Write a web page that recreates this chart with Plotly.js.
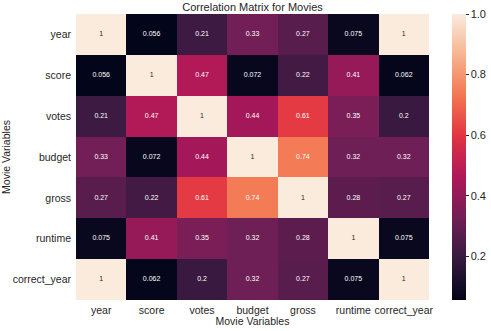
<!DOCTYPE html>
<html>
<head>
<meta charset="utf-8">
<script src="https://cdn.plot.ly/plotly-3.0.1.min.js"></script>
<style>html,body{margin:0;padding:0;background:#fff;}#chart{width:491px;height:331px;}</style>
</head>
<body>
<div id="chart"></div>
<script>
var variables = ["year", "score", "votes", "budget", "gross", "runtime", "correct_year"];
var rowYear        = [1, 0.056, 0.21, 0.33, 0.27, 0.075, 1];
var rowScore       = [0.056, 1, 0.47, 0.072, 0.22, 0.41, 0.062];
var rowVotes       = [0.21, 0.47, 1, 0.44, 0.61, 0.35, 0.2];
var rowBudget      = [0.33, 0.072, 0.44, 1, 0.74, 0.32, 0.32];
var rowGross       = [0.27, 0.22, 0.61, 0.74, 1, 0.28, 0.27];
var rowRuntime     = [0.075, 0.41, 0.35, 0.32, 0.28, 1, 0.075];
var rowCorrectYear = [1, 0.062, 0.2, 0.32, 0.27, 0.075, 1];
var colorbarTicks = [0.2, 0.4, 0.6, 0.8, 1.0];

var z = [rowYear, rowScore, rowVotes, rowBudget, rowGross, rowRuntime, rowCorrectYear];

var rocket = [
  [0.0, "#03051a"],
  [0.143, "#35193e"],
  [0.286, "#701f57"],
  [0.429, "#ad1759"],
  [0.571, "#e13342"],
  [0.714, "#f37651"],
  [0.857, "#f6b48f"],
  [1.0, "#faebdd"]
];

var zmin = Math.min.apply(null, z.map(function(r){return Math.min.apply(null, r);}));
var FONT = "Liberation Sans, Arial, sans-serif";

var tx = [], ty = [], tt = [], tc = [];
z.forEach(function(row, i){
  row.forEach(function(v, j){
    tx.push(variables[j]); ty.push(variables[i]); tt.push(String(v));
    tc.push(v >= 0.9 ? "#262626" : "#ffffff");
  });
});

var heat = {
  type: "heatmap",
  x: variables,
  y: variables,
  z: z,
  colorscale: rocket,
  zmin: zmin,
  zmax: 1,
  colorbar: {
    x: 452 / 491, xanchor: "left", xref: "container",
    y: 0.5, yanchor: "middle", yref: "paper", len: 1, lenmode: "fraction",
    thickness: 14, thicknessmode: "pixels",
    outlinewidth: 0,
    tickvals: colorbarTicks,
    ticktext: colorbarTicks.map(function(v){return v.toFixed(1);}),
    ticks: "outside", ticklen: 3, tickwidth: 1, tickcolor: "#262626",
    tickfont: {family: FONT, size: 11, color: "#262626"},
    xpad: 0, ypad: 0
  }
};

var labels = {
  type: "scatter",
  mode: "text",
  x: tx, y: ty, text: tt,
  textposition: "middle center",
  textfont: {family: FONT, size: 7, color: tc},
  showlegend: false,
  hoverinfo: "skip"
};

var layout = {
  width: 491, height: 331,
  margin: {l: 76, r: 62, t: 14, b: 31, pad: 0, autoexpand: false},
  paper_bgcolor: "#ffffff",
  plot_bgcolor: "#ffffff",
  font: {family: FONT, color: "#262626"},
  showlegend: false,
  title: {
    text: "Correlation Matrix for Movies",
    font: {size: 11, color: "#262626"},
    x: 0.5, xref: "paper", xanchor: "center",
    y: 0.977, yref: "container", yanchor: "middle"
  },
  xaxis: {
    title: {text: "Movie Variables", font: {size: 10.5, color: "#262626"}, standoff: 3},
    tickfont: {size: 10.5, color: "#262626"},
    tickangle: 0,
    ticks: "", showgrid: false, zeroline: false, showline: false,
    ticklabelstandoff: 2,
    automargin: false
  },
  yaxis: {
    title: {text: "Movie Variables", font: {size: 10.5, color: "#262626"}, standoff: 5},
    tickfont: {size: 10.5, color: "#262626"},
    autorange: "reversed",
    ticks: "", showgrid: false, zeroline: false, showline: false,
    ticklabelstandoff: 4,
    automargin: false
  }
};

Plotly.newPlot("chart", [heat, labels], layout, {displayModeBar: false, staticPlot: true});
</script>
</body>
</html>
